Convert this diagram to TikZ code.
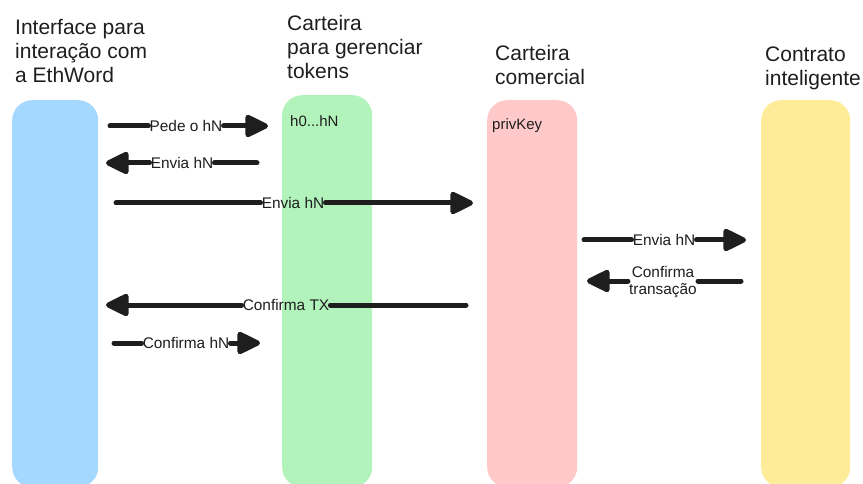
\documentclass[tikz,border=0pt]{standalone}
\usepackage{fontspec}
\setmainfont{Liberation Sans}
\usetikzlibrary{arrows.meta}

\definecolor{azul}{HTML}{A5D8FF}
\definecolor{verde}{HTML}{B2F2BB}
\definecolor{rosa}{HTML}{FFC9C9}
\definecolor{amarelo}{HTML}{FFEC99}
\definecolor{tinta}{HTML}{1E1E1E}

\begin{document}
\begin{tikzpicture}[x=1pt, y=-1pt,
    coluna/.style = {rounded corners=20pt, inner sep=0pt, anchor=north west},
    titulo/.style = {anchor=north west, align=left, inner sep=0pt, text=tinta,
                     font=\fontsize{21}{24}\selectfont},
    dado/.style   = {anchor=base west, inner sep=0pt, text=tinta,
                     font=\fontsize{15}{17}\selectfont},
    rotulo/.style = {inner sep=1pt, align=center, text=tinta,
                     font=\fontsize{15.4}{17}\selectfont},
    fluxo/.style  = {line width=5pt, line cap=round, draw=tinta},
    ponta/.style  = {-{Triangle[length=26pt, width=24pt, round]}}]
    \useasboundingbox (0,0) rectangle (863,484);

%% the four lanes, they run off the bottom edge
    \node[coluna, fill=azul, minimum width=86pt, minimum height=387pt] (interface) at (12,100) {};
    \node[coluna, fill=verde, minimum width=90pt, minimum height=392pt] (tokens) at (282,95) {};
    \node[coluna, fill=rosa, minimum width=90pt, minimum height=387pt] (comercial) at (487,100) {};
    \node[coluna, fill=amarelo, minimum width=89pt, minimum height=387pt] (contrato) at (761,100) {};

%% titles over each lane
    \node[titulo] (tInterface) at (15,19) {Interface para\\intera\c{c}\~ao com\\a EthWord};
    \node[titulo] (tTokens) at (287,15) {Carteira\\para gerenciar\\tokens};
    \node[titulo] (tComercial) at (495,45) {Carteira\\comercial};
    \node[titulo] (tContrato) at (765,47) {Contrato\\inteligente};

%% what each wallet keeps
    \node[dado] (hashes) at (290,127) {h0...hN};
    \node[dado] (chave) at (492,130) {privKey};

%% messages, the line is cut where the label sits
    \coordinate (a1) at (110,126);
    \coordinate (b1) at (268,126);
    \node[rotulo] (m1) at (186,126) {Pede o hN};
    \draw[fluxo] (a1) -- (m1.west);
    \draw[fluxo, ponta] (m1.east) -- (b1);

    \coordinate (a2) at (257,163);
    \coordinate (b2) at (106,163);
    \node[rotulo] (m2) at (182,163) {Envia hN};
    \draw[fluxo] (a2) -- (m2.east);
    \draw[fluxo, ponta] (m2.west) -- (b2);

    \coordinate (a3) at (116,203);
    \coordinate (b3) at (473,203);
    \node[rotulo] (m3) at (293,203) {Envia hN};
    \draw[fluxo] (a3) -- (m3.west);
    \draw[fluxo, ponta] (m3.east) -- (b3);

    \coordinate (a4) at (584,240);
    \coordinate (b4) at (746,240);
    \node[rotulo] (m4) at (664,240) {Envia hN};
    \draw[fluxo] (a4) -- (m4.west);
    \draw[fluxo, ponta] (m4.east) -- (b4);

    \coordinate (a5) at (741,281);
    \coordinate (b5) at (587,281);
    \node[rotulo] (m5) at (663,282) {Confirma\\transa\c{c}\~ao};
    \draw[fluxo] (a5) -- (a5 -| m5.east);
    \draw[fluxo, ponta] (b5 -| m5.west) -- (b5);

    \coordinate (a6) at (466,305);
    \coordinate (b6) at (106,305);
    \node[rotulo] (m6) at (286,305) {Confirma TX};
    \draw[fluxo] (a6) -- (m6.east);
    \draw[fluxo, ponta] (m6.west) -- (b6);

    \coordinate (a7) at (114,343);
    \coordinate (b7) at (260,343);
    \node[rotulo] (m7) at (186,343) {Confirma hN};
    \draw[fluxo] (a7) -- (m7.west);
    \draw[fluxo, ponta] (m7.east) -- (b7);
\end{tikzpicture}
\end{document}
